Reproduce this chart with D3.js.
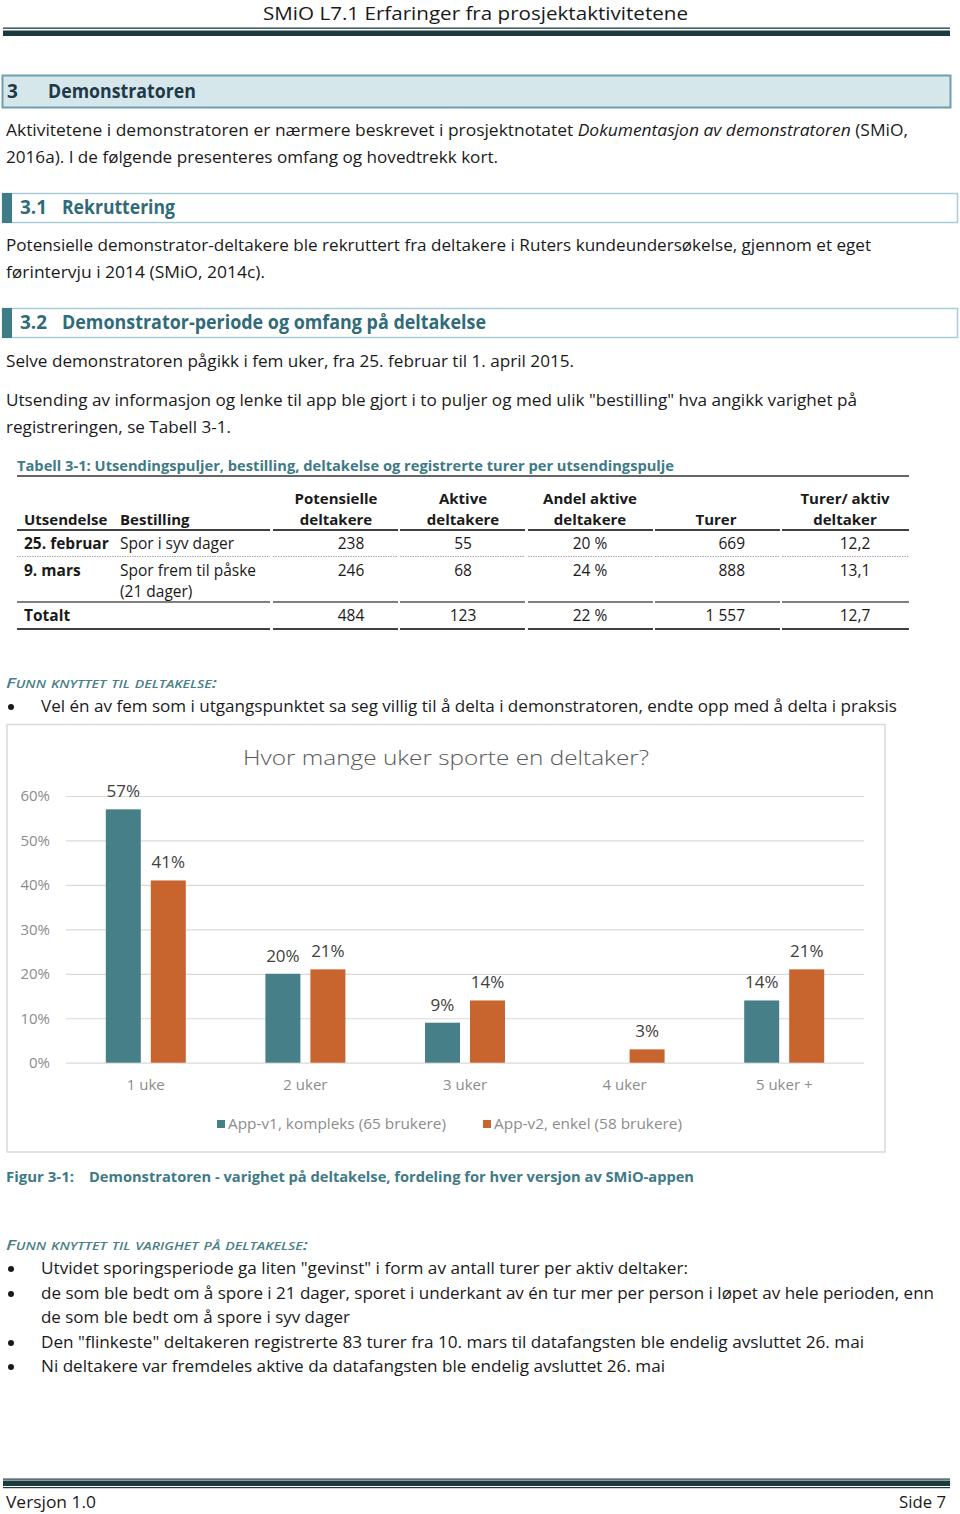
<!DOCTYPE html>
<html><head><meta charset="utf-8">
<script src="https://cdn.jsdelivr.net/npm/d3@7"></script>
<style>body{margin:0;background:#fff}svg{display:block}text{font-family:"Open Sans",sans-serif}</style>
</head><body><svg id="page" width="960" height="1514"></svg>
<script>
// ---- chart data ----
const categories = ["1 uke", "2 uker", "3 uker", "4 uker", "5 uker +"];
const seriesNames = ["App-v1, kompleks (65 brukere)", "App-v2, enkel (58 brukere)"];
const appV1 = [0.57, 0.20, 0.09, 0, 0.14];
const appV2 = [0.41, 0.21, 0.14, 0.03, 0.21];
const yTicks = [0, 0.1, 0.2, 0.3, 0.4, 0.5, 0.6];
const seriesColors = ["#467f88", "#c8652e"];
// ---- table data ----
const tableHeader1 = ["", "", "Potensielle", "Aktive", "Andel aktive", "", "Turer/ aktiv"];
const tableHeader2 = ["Utsendelse", "Bestilling", "deltakere", "deltakere", "deltakere", "Turer", "deltaker"];
const tableRows = [
  ["25. februar", "Spor i syv dager", "238", "55", "20 %", "669", "12,2"],
  ["9. mars", "Spor frem til påske\n(21 dager)", "246", "68", "24 %", "888", "13,1"],
  ["Totalt", "", "484", "123", "22 %", "1 557", "12,7"]
];

const svg = d3.select("#page");
const TEAL = "#3e7a86", DARK = "#1d3b3f", BODY = "#1a1a1a";

function T(x, y, s, o = {}) {
  const t = svg.append("text").attr("x", x).attr("y", y)
    .attr("font-size", o.size || 16).attr("fill", o.fill || BODY)
    .attr("font-weight", o.weight || 400).attr("text-anchor", o.anchor || "start");
  if (o.italic) t.attr("font-style", "italic");
  if (o.sc) t.attr("font-variant", "small-caps");
  if (Array.isArray(s)) s.forEach(p => t.append("tspan").text(p.t).attr("font-style", p.i ? "italic" : null));
  else t.text(s);
  if (o.w) t.attr("textLength", o.w).attr("lengthAdjust", "spacingAndGlyphs");
  return t;
}
function R(x, y, w, h, fill, stroke, sw) {
  return svg.append("rect").attr("x", x).attr("y", y).attr("width", w).attr("height", h)
    .attr("fill", fill || "none").attr("stroke", stroke || "none").attr("stroke-width", sw || 0);
}
function L(x1, y1, x2, y2, stroke, sw, dash) {
  const l = svg.append("line").attr("x1", x1).attr("y1", y1).attr("x2", x2).attr("y2", y2)
    .attr("stroke", stroke).attr("stroke-width", sw);
  if (dash) l.attr("stroke-dasharray", dash);
  return l;
}
function bullet(y) { svg.append("circle").attr("cx", 11).attr("cy", y - 5).attr("r", 3).attr("fill", BODY); }

// ---- page header ----
T(475.5, 20, "SMiO L7.1 Erfaringer fra prosjektaktivitetene", {size: 18.5, anchor: "middle", w: 425});
R(3, 27.5, 947, 1.3, DARK);
R(3, 30.5, 947, 5.5, DARK);

// ---- section 3 ----
R(2.5, 75.5, 948, 32, "#d6e7ec", "#6b9fae", 2);
T(7, 98, "3", {size: 19, weight: 700, fill: "#1e3a48"});
T(48, 98, "Demonstratoren", {size: 19, weight: 700, fill: "#1e3a48", w: 148});
T(6, 136, [{t: "Aktivitetene i demonstratoren er nærmere beskrevet i prosjektnotatet "}, {t: "Dokumentasjon av demonstratoren", i: true}, {t: " (SMiO,"}], {w: 902});
T(6, 163, "2016a). I de følgende presenteres omfang og hovedtrekk kort.", {w: 492});

// ---- section 3.1 ----
R(2.5, 193.5, 955, 29, "#fff", "#a9cdd6", 1.5);
R(2, 193, 10, 30, "#3f7c87");
T(20, 214, "3.1", {size: 19, weight: 700, fill: "#2f6b78", w: 27});
T(62, 214, "Rekruttering", {size: 19, weight: 700, fill: "#2f6b78", w: 113});
T(6, 251, "Potensielle demonstrator-deltakere ble rekruttert fra deltakere i Ruters kundeundersøkelse, gjennom et eget", {w: 865});
T(6, 278, "førintervju i 2014 (SMiO, 2014c).", {w: 259});

// ---- section 3.2 ----
R(2.5, 308.5, 955, 29, "#fff", "#a9cdd6", 1.5);
R(2, 308, 10, 30, "#3f7c87");
T(20, 329, "3.2", {size: 19, weight: 700, fill: "#2f6b78", w: 27});
T(62, 329, "Demonstrator-periode og omfang på deltakelse", {size: 19, weight: 700, fill: "#2f6b78", w: 424});
T(6, 367, "Selve demonstratoren pågikk i fem uker, fra 25. februar til 1. april 2015.", {w: 568});
T(6, 406, "Utsending av informasjon og lenke til app ble gjort i to puljer og med ulik \"bestilling\" hva angikk varighet på", {w: 851});
T(6, 433, "registreringen, se Tabell 3-1.", {w: 225});

// ---- table ----
T(17, 471, "Tabell 3-1: Utsendingspuljer, bestilling, deltakelse og registrerte turer per utsendingspulje", {size: 15, weight: 700, fill: TEAL, w: 657});
L(17, 476, 909, 476, "#333", 1.3);
const segs = [[17, 270], [273, 398], [400, 525], [528, 653], [655, 780], [782, 909]];
segs.forEach(s => {
  L(s[0], 530, s[1], 530, "#404040", 2);
  L(s[0], 556.5, s[1], 556.5, "#a8a8a8", 1, "1.5,1");
  L(s[0], 602, s[1], 602, "#555", 1.3);
  L(s[0], 629, s[1], 629, "#404040", 2);
});
const hdrPos = [[24, "start"], [120, "start"], [336, "middle"], [463, "middle"], [590, "middle"], [716, "middle"], [845, "middle"]];
const valPos = [[24, "start"], [120, "start"], [351, "middle"], [463, "middle"], [590, "middle"], [745, "end"], [855, "middle"]];
tableHeader1.forEach((h, i) => { if (h) T(hdrPos[i][0], 504, h, {size: 15, weight: 700, anchor: hdrPos[i][1]}); });
tableHeader2.forEach((h, i) => T(hdrPos[i][0], 525, h, {size: 15, weight: 700, anchor: hdrPos[i][1]}));
const rowY = [549, 576, 621];
tableRows.forEach((row, r) => {
  row.forEach((v, i) => {
    v.split("\n").forEach((part, k) => {
      if (part) T(valPos[i][0], rowY[r] + k * 21, part, {size: 15.5, weight: i === 0 ? 700 : 400, anchor: valPos[i][1]});
    });
  });
});

// ---- findings 1 ----
T(6, 688, "Funn knyttet til deltakelse:", {size: 15, weight: 600, italic: true, sc: true, fill: "#4a7f87", w: 211});
bullet(712);
T(41, 712, "Vel én av fem som i utgangspunktet sa seg villig til å delta i demonstratoren, endte opp med å delta i praksis", {w: 856});

// ---- chart ----
R(7, 724.5, 878, 427.5, "#fff", "#d9d9d9", 1.5);
T(446, 765, "Hvor mange uker sporte en deltaker?", {size: 21, weight: 300, fill: "#595959", anchor: "middle", w: 406});

const x0 = d3.scaleBand().domain(categories).range([66, 864]);
const x1 = d3.scaleBand().domain([0, 1]).range([0, 80]).paddingInner(0.2222);
const y = d3.scaleLinear().domain([0, 0.6]).range([1062.7, 796]);

const gy = svg.append("g").attr("transform", "translate(66,0)")
  .call(d3.axisLeft(y).tickValues(yTicks).tickFormat(d3.format(".0%")).tickSize(-798).tickPadding(16));
gy.select(".domain").remove();
gy.selectAll(".tick line").attr("stroke", "#d9d9d9").attr("stroke-width", 1.2);
gy.selectAll(".tick text").attr("font-family", "Open Sans, sans-serif").attr("font-size", 15).attr("fill", "#8c8c8c");

const gx = svg.append("g").attr("transform", "translate(0,1063)")
  .call(d3.axisBottom(x0).tickSize(0).tickPadding(16));
gx.select(".domain").remove();
gx.selectAll(".tick text").attr("font-family", "Open Sans, sans-serif").attr("font-size", 15).attr("fill", "#8c8c8c");

const series = [appV1, appV2];
series.forEach((vals, s) => {
  const g = svg.append("g");
  vals.forEach((v, i) => {
    const bx = x0(categories[i]) + x0.bandwidth() / 2 - 40 + x1(s);
    if (v > 0) {
      g.append("rect").attr("x", bx).attr("y", y(v)).attr("width", x1.bandwidth())
        .attr("height", y(0) - y(v)).attr("fill", seriesColors[s]);
      g.append("text").attr("x", bx + x1.bandwidth() / 2).attr("y", y(v) - 12)
        .attr("text-anchor", "middle").attr("font-size", 17).attr("fill", "#404040")
        .text(d3.format(".0%")(v));
    }
  });
});

// legend
const legX = [217, 483];
seriesNames.forEach((n, s) => {
  R(legX[s], 1120, 8, 8, seriesColors[s]);
  T(legX[s] + 11, 1129, n, {size: 15, fill: "#8c8c8c", w: s === 0 ? 218 : 188});
});

// ---- figure caption ----
T(6, 1182, "Figur 3-1:", {size: 15, weight: 700, fill: TEAL, w: 68});
T(89, 1182, "Demonstratoren - varighet på deltakelse, fordeling for hver versjon av SMiO-appen", {size: 15, weight: 700, fill: TEAL, w: 605});

// ---- findings 2 ----
T(6, 1250, "Funn knyttet til varighet på deltakelse:", {size: 15, weight: 600, italic: true, sc: true, fill: "#4a7f87", w: 302});
bullet(1274);
T(41, 1274, "Utvidet sporingsperiode ga liten \"gevinst\" i form av antall turer per aktiv deltaker:", {w: 647});
bullet(1299);
T(41, 1299, "de som ble bedt om å spore i 21 dager, sporet i underkant av én tur mer per person i løpet av hele perioden, enn", {w: 893});
T(41, 1323, "de som ble bedt om å spore i syv dager", {w: 309});
bullet(1348);
T(41, 1348, "Den \"flinkeste\" deltakeren registrerte 83 turer fra 10. mars til datafangsten ble endelig avsluttet 26. mai", {w: 823});
bullet(1372);
T(41, 1372, "Ni deltakere var fremdeles aktive da datafangsten ble endelig avsluttet 26. mai", {w: 624});

// ---- footer ----
R(3, 1478.5, 947, 1.2, DARK);
R(3, 1480.5, 947, 5.5, DARK);
R(3, 1487, 947, 1.2, DARK);
T(6, 1508, "Versjon 1.0", {size: 17, w: 90});
T(946, 1508, "Side 7", {size: 17, anchor: "end", w: 47});
</script>
</body></html>
